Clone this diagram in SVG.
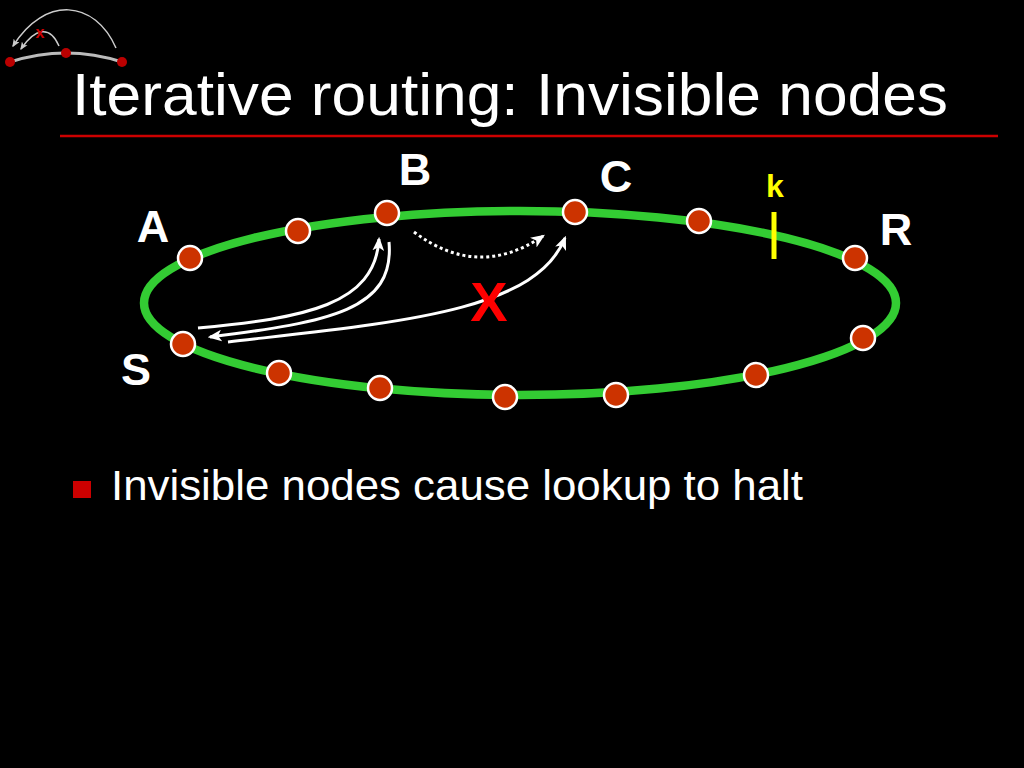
<svg xmlns="http://www.w3.org/2000/svg" width="1024" height="768" viewBox="0 0 1024 768">
<defs>
<style>
.lbl{font-family:"Liberation Sans",Arial,sans-serif;font-weight:bold;fill:#fff;font-size:45px}
.node{fill:#cc3300;stroke:#fff;stroke-width:2.5}
.arr{fill:none;stroke:#fff;stroke-width:3}
</style>
<marker id="ah" viewBox="0 0 12 10" refX="10" refY="5" markerWidth="14" markerHeight="12" markerUnits="userSpaceOnUse" orient="auto">
<path d="M0,0 L12,5 L0,10 L3,5 z" fill="#fff"/>
</marker>
<marker id="ahs" viewBox="0 0 12 10" refX="10" refY="5" markerWidth="8" markerHeight="7" markerUnits="userSpaceOnUse" orient="auto">
<path d="M0,0 L12,5 L0,10 L3,5 z" fill="#ccc"/>
</marker>
</defs>
<rect width="1024" height="768" fill="#000"/>
<g id="logo">
<path d="M10,62 Q66,44 122,62" fill="none" stroke="#bbb" stroke-width="3"/>
<path d="M116,48 C95,0 45,-5 13,46" fill="none" stroke="#ccc" stroke-width="1.5" marker-end="url(#ahs)"/>
<path d="M59,46 C50,25 35,28 21,49" fill="none" stroke="#ccc" stroke-width="1.5" marker-end="url(#ahs)"/>
<text x="40" y="38" font-family="Liberation Sans,sans-serif" font-size="16" font-weight="bold" fill="#c00" text-anchor="middle">x</text>
<circle cx="10" cy="62" r="5" fill="#b00"/>
<circle cx="66" cy="53" r="5" fill="#b00"/>
<circle cx="122" cy="62" r="5" fill="#b00"/>
</g>
<g id="title">
<text x="72" y="115" font-family="Liberation Sans,Arial,sans-serif" font-size="60" textLength="876" lengthAdjust="spacingAndGlyphs" fill="#fff">Iterative routing: Invisible nodes</text>
<line x1="60" y1="136" x2="998" y2="136" stroke="#cc0000" stroke-width="2.5"/>
</g>
<g id="ring">
<ellipse cx="520" cy="303" rx="376" ry="92" fill="none" stroke="#33cc33" stroke-width="8.5"/>
</g>
<g id="k-marker">
<line x1="774" y1="212" x2="774" y2="259" stroke="#ffff00" stroke-width="5"/>
<text x="775" y="197" font-family="Liberation Sans,Arial,sans-serif" font-size="32" font-weight="bold" fill="#ffff00" text-anchor="middle">k</text>
</g>
<g id="connectors">
<path class="arr" d="M198,328 C305,318 375,305 379,239" marker-end="url(#ah)"/>
<path class="arr" d="M389,242 C395,310 330,322 210,337" marker-end="url(#ah)"/>
<path class="arr" d="M228,342 C400,322 535,312 565,238" marker-end="url(#ah)"/>
<path class="arr" d="M414,232 Q478,280 543,236" stroke-dasharray="3,3" marker-end="url(#ah)"/>
</g>
<g id="nodes">
<circle class="node" cx="190" cy="258" r="12"/>
<circle class="node" cx="298" cy="231" r="12"/>
<circle id="B" class="node" cx="387" cy="213" r="12"/>
<circle id="C" class="node" cx="575" cy="212" r="12"/>
<circle class="node" cx="699" cy="221" r="12"/>
<circle id="R" class="node" cx="855" cy="258" r="12"/>
<circle class="node" cx="863" cy="338" r="12"/>
<circle class="node" cx="756" cy="375" r="12"/>
<circle class="node" cx="616" cy="395" r="12"/>
<circle class="node" cx="505" cy="397" r="12"/>
<circle class="node" cx="380" cy="388" r="12"/>
<circle class="node" cx="279" cy="373" r="12"/>
<circle id="S" class="node" cx="183" cy="344" r="12"/>
</g>
<g id="labels">
<text class="lbl" x="415" y="185" text-anchor="middle">B</text>
<text class="lbl" x="616" y="192" text-anchor="middle">C</text>
<text class="lbl" x="153" y="242" text-anchor="middle">A</text>
<text class="lbl" x="896" y="245" text-anchor="middle">R</text>
<text class="lbl" x="136" y="385" text-anchor="middle">S</text>
<text x="489" y="321" font-family="Liberation Sans,Arial,sans-serif" font-size="56" font-weight="bold" fill="#ff0000" text-anchor="middle">X</text>
</g>
<g id="bullet">
<rect x="73" y="481" width="18" height="17" fill="#cc0000"/>
<text x="111" y="500" font-family="Liberation Sans,Arial,sans-serif" font-size="42" textLength="692" lengthAdjust="spacingAndGlyphs" fill="#fff">Invisible nodes cause lookup to halt</text>
</g>
</svg>
